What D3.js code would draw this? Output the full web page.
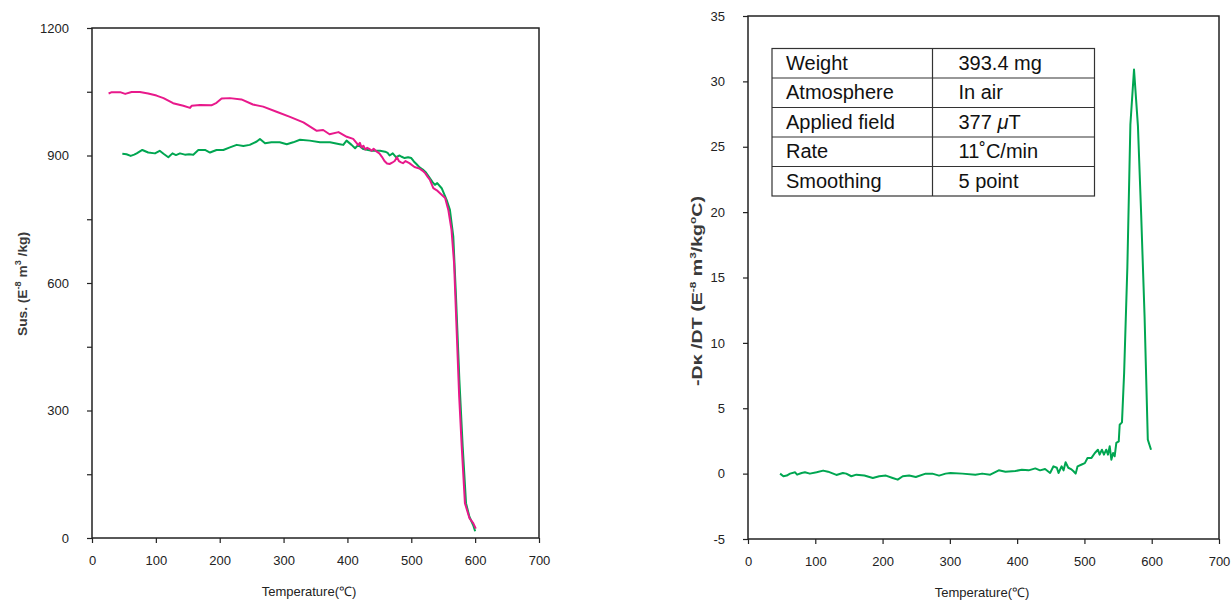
<!DOCTYPE html>
<html>
<head>
<meta charset="utf-8">
<script src="https://cdn.jsdelivr.net/npm/d3@7"></script>
<style>
  body { margin: 0; background: #fff; }
  svg { display: block; font-family: "Liberation Sans", Arial, sans-serif; }
</style>
</head>
<body>
<svg width="1231" height="601"></svg>
<script>
// heating run (green), susceptibility vs temperature
const heatTemp = [47.5,54,60.6,66,70,78.8,88,98.6,106,112,119.5,126,131.5,137.8,145.5,152,158.6,166.5,177,184.8,
  195,205.6,216,226.6,237,247,258,263,271,281,294,305,315,325.7,341,357,372.7,388,393.5,398.6,
  406.5,412,417,425,438,451,459,463,466,471,476,481.7,485,489.5,495,500,504,508,513,518,
  523,529,533,537,540.6,547.6,555.3,560.5,565.8,570,575.3,580.5,585.7,591,597,600];
const heatSus = [904,903,899,902,905,913,907,905,911,904,896,905,901,905,902,903,902,913,913,907,
  913,913,919,925,922.5,925,933,939,929,931,931,926.5,931,937,935,931,931,926.5,925,935,
  925,917,925,915,911,911,909,906,900,905,896,900,897,894,896,894,886,880,872,867,
  860,847,838,831,835,823,795.5,772,709,568,372,215,82,50,30,16];

// cooling run (magenta)
const coolTemp = [26,31,44,52,62,75,88,101,112,127,143,153.5,156,169,187,195,203,216,234,252,
  268,289,310,331,352,362,372,386,399,409,414.5,417,419.5,422,425,428,431,435,438,441,
  446,450,454,458,462,466,470,474,477.5,480.6,484,487,491,497,505,513,518,522,526,529,
  534.5,540,545,553,558,563,567,571,575,579,584,591,597,601];
const coolSus = [1046,1049,1049,1045,1049.5,1049.5,1046,1041,1035,1023,1017,1012,1017,1019,1018,1024,1034,1035,1032,1020,
  1015,1003,991,978,958,960,950,955,944,939,929,924,930,919,923,914,918,915,911,916,
  909,905,897,887,881,880,883,887,896,887,884,882,887,882,873,869,864,858,849,843,
  823,818,811,800,772,725,647,490,333,215,82,47,35,22];

// derivative -dk/dT (green)
const derivTemp = [47.7,52.6,57.6,62.5,70,73,79.7,84.6,92,102,111.7,119,131.4,141,146,153.6,161,173,185.5,195,
  205,215,222.5,230,239.5,249.4,264,274,284,293.6,301,318.5,338,348,360,372.7,382.6,397.4,407,417,
  427,434,441.5,449,454,459,461.5,466,469,472,476,480,483.4,487,489.8,496,500.6,504.6,510.5,515.5,
  520,522.6,526,529,532.4,535,537.6,540,542.6,545,547.4,551,552.4,555.8,559,563.8,568.3,573.7,579.5,584.4,
  589.4,594.2,599];
const derivVal = [0,-0.2,-0.15,0,0.1,-0.08,0.05,0.1,0,0.1,0.23,0.15,-0.1,0.05,0,-0.2,-0.08,-0.15,-0.33,-0.2,
  -0.15,-0.33,-0.46,-0.2,-0.15,-0.26,0,0,-0.15,0,0.05,0,-0.08,0,-0.08,0.25,0.15,0.2,0.3,0.25,
  0.4,0.25,0.35,0.05,0.56,0.45,0.05,0.56,0.25,0.87,0.45,0.35,0.2,0,0.56,0.7,0.8,1.2,1.2,1.58,
  1.83,1.45,1.83,1.45,1.83,1.45,2.09,1.07,1.58,1.33,2.35,2.47,3.74,3.92,7.7,15.8,26.7,30.9,26.6,19.7,
  12.0,2.6,1.83];

const tempTicks = [0, 100, 200, 300, 400, 500, 600, 700];
const susTicks = [0, 300, 600, 900, 1200];
const susMinorTicks = [150, 450, 750, 1050];
const derivTicks = [-5, 0, 5, 10, 15, 20, 25, 30, 35];

const tableLabels = ['Weight', 'Atmosphere', 'Applied field', 'Rate', 'Smoothing'];
const tableValues = ['393.4 mg', 'In air', '377 \u03bcT', '11\u02daC/min', '5 point'];

const GREEN = '#00a651';
const MAGENTA = '#e8198b';
const INK = '#222';

const svg = d3.select('svg');

const left = { x0: 92, x1: 539, y0: 28, y1: 538 };
const right = { x0: 748, x1: 1219, y0: 16, y1: 539 };

const xL = d3.scaleLinear().domain([0, 700]).range([left.x0, left.x1]);
const yL = d3.scaleLinear().domain([0, 1200]).range([left.y1, left.y0]);
const xR = d3.scaleLinear().domain([0, 700]).range([right.x0, right.x1]);
const yR = d3.scaleLinear().domain([-5, 35]).range([right.y1, right.y0]);

function frame(box) {
  svg.append('rect')
    .attr('x', box.x0)
    .attr('y', box.y0)
    .attr('width', box.x1 - box.x0)
    .attr('height', box.y1 - box.y0)
    .attr('fill', 'none')
    .attr('stroke', INK)
    .attr('stroke-width', 1.5)
  ;
}

function styleAxis(g) {
  g.select('.domain').remove();
  g.selectAll('line').attr('stroke', INK).attr('stroke-width', 1.2);
  g.selectAll('text')
    .attr('fill', INK)
    .style('font-size', '13px')
    .style('font-family', '"Liberation Sans", Arial, sans-serif')
  ;
}

function axes(box, x, y, yTicks, yMinor) {
  svg.append('g')
    .attr('transform', `translate(0,${box.y1})`)
    .call(d3.axisBottom(x).tickValues(tempTicks).tickSize(5).tickPadding(13).tickFormat(d => String(d)))
    .call(styleAxis)
  ;
  svg.append('g')
    .attr('transform', `translate(${box.x0},0)`)
    .call(d3.axisLeft(y).tickValues(yTicks).tickSize(5).tickPadding(18).tickFormat(d => String(d)))
    .call(styleAxis)
  ;
  if (yMinor) {
    svg.append('g')
      .attr('transform', `translate(${box.x0},0)`)
      .call(d3.axisLeft(y).tickValues(yMinor).tickSize(5).tickFormat(''))
      .call(styleAxis)
    ;
  }
  frame(box);
}

function curve(x, y, xs, ys, color) {
  const line = d3.line()
    .x(i => x(xs[i]))
    .y(i => y(ys[i]))
  ;
  svg.append('path')
    .datum(d3.range(xs.length))
    .attr('d', line)
    .attr('fill', 'none')
    .attr('stroke', color)
    .attr('stroke-width', 2)
    .attr('stroke-linejoin', 'round')
  ;
}

function xTitle(cx, y) {
  svg.append('text')
    .attr('x', cx)
    .attr('y', y)
    .attr('text-anchor', 'middle')
    .attr('fill', INK)
    .style('font-size', '13px')
    .text('Temperature(\u2103)')
  ;
}

// parts: [text, isSuperscript]
function yTitle(x, cy, parts, size, len) {
  const t = svg.append('text')
    .attr('transform', `translate(${x},${cy}) rotate(-90)`)
    .attr('text-anchor', 'middle')
    .attr('fill', '#3a3a3a')
    .attr('font-weight', 'bold')
    .style('font-size', size + 'px')
  ;
  if (len) t.attr('textLength', len).attr('lengthAdjust', 'spacingAndGlyphs');
  let up = false;
  parts.forEach(([s, sup]) => {
    const span = t.append('tspan').text(s);
    if (sup && !up) { span.attr('dy', -6).style('font-size', '9px'); up = true; }
    else if (sup) { span.style('font-size', '9px'); }
    else if (up) { span.attr('dy', 6); up = false; }
  });
}

{ // left chart: susceptibility
axes(left, xL, yL, susTicks, susMinorTicks);
curve(xL, yL, heatTemp, heatSus, GREEN);
curve(xL, yL, coolTemp, coolSus, MAGENTA);
xTitle(309, 596);
yTitle(27, 284, [['Sus. (E'], ['-8', true], [' m'], ['3', true], [' /kg)']], 13.5, 104);
}

{ // right chart: derivative
axes(right, xR, yR, derivTicks);
curve(xR, yR, derivTemp, derivVal, GREEN);
xTitle(982, 597);
yTitle(702, 291, [['-D\u03ba /DT (E'], ['-8', true], [' m'], ['3', true], ['/kg'], ['o', true], ['C)']], 15, 190);
}

{ // measurement table
const tx = 772, ty = 48.5, rowH = 29.5, colX = 932.5, tw = 322.5;
const g = svg.append('g');
g.append('rect')
  .attr('x', tx)
  .attr('y', ty)
  .attr('width', tw)
  .attr('height', rowH * tableLabels.length)
  .attr('fill', '#fff')
  .attr('stroke', '#333')
  .attr('stroke-width', 1.2)
;
g.selectAll('.row-line')
  .data(d3.range(1, tableLabels.length))
  .enter().append('line')
  .attr('x1', tx)
  .attr('x2', tx + tw)
  .attr('y1', i => ty + i * rowH)
  .attr('y2', i => ty + i * rowH)
  .attr('stroke', '#333')
  .attr('stroke-width', 1.2)
;
g.append('line')
  .attr('x1', colX)
  .attr('x2', colX)
  .attr('y1', ty)
  .attr('y2', ty + rowH * tableLabels.length)
  .attr('stroke', '#333')
  .attr('stroke-width', 1.2)
;
g.selectAll('.lab')
  .data(tableLabels)
  .enter().append('text')
  .attr('x', tx + 14)
  .attr('y', (d, i) => ty + i * rowH + 21)
  .attr('fill', '#111')
  .style('font-size', '20px')
  .text(d => d)
;
g.selectAll('.val')
  .data(tableValues)
  .enter().append('text')
  .attr('x', colX + 26)
  .attr('y', (d, i) => ty + i * rowH + 21)
  .attr('fill', '#111')
  .style('font-size', '20px')
  .each(function (d) {
    const el = d3.select(this);
    const k = d.indexOf('\u03bc');
    if (k < 0) { el.text(d); return; }
    el.append('tspan').text(d.slice(0, k));
    el.append('tspan').attr('font-style', 'italic').text('\u03bc');
    el.append('tspan').text(d.slice(k + 1));
  })
;
}
</script>
</body>
</html>
